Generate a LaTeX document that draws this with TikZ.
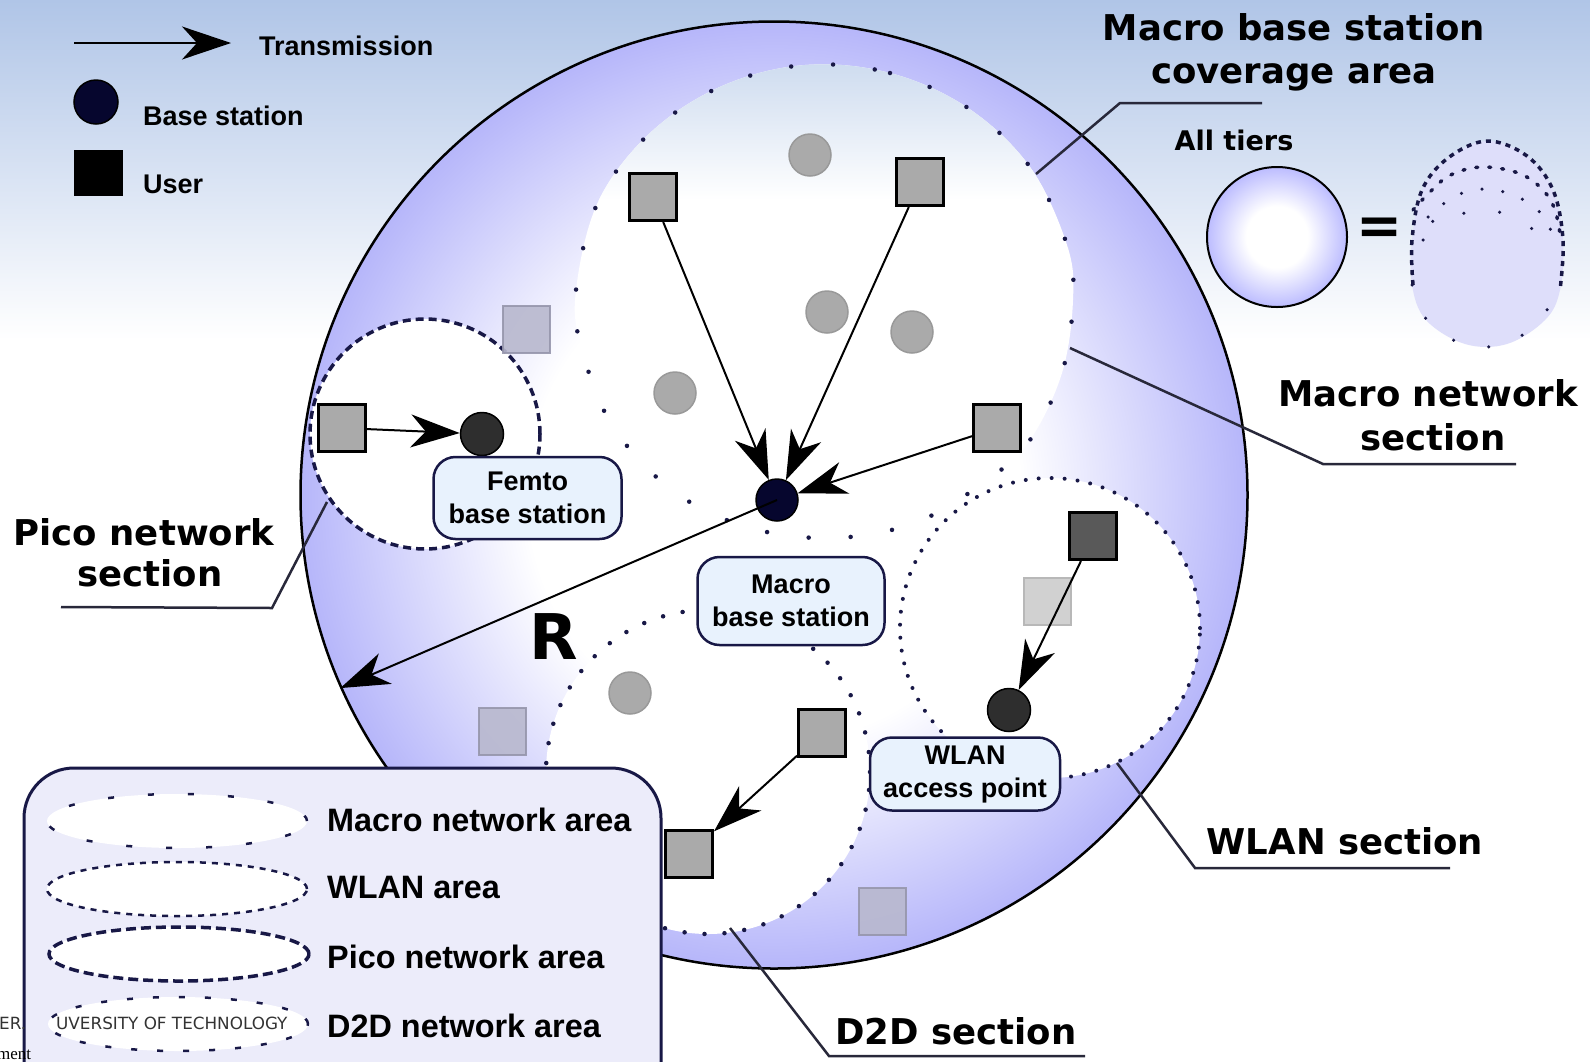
\documentclass[tikz,border=0pt]{standalone}
\usepackage{fontspec}
\setmainfont{DejaVu Sans}
\newfontfamily\legfont{Liberation Sans}
\newfontfamily\serffont{Liberation Serif}
\usetikzlibrary{arrows.meta,shapes.geometric}

\definecolor{sky}{RGB}{176,197,231}
\definecolor{rim}{RGB}{182,182,250}
\definecolor{rimlight}{RGB}{188,188,255}
\definecolor{navy}{RGB}{24,24,70}
\definecolor{bsnavy}{RGB}{6,6,46}
\definecolor{lblfill}{RGB}{232,242,253}
\definecolor{legfill}{RGB}{236,236,250}
\definecolor{usergray}{RGB}{170,170,170}
\definecolor{ghost}{RGB}{184,184,206}
\definecolor{ghostline}{RGB}{150,150,172}
\definecolor{tierfill}{RGB}{222,222,250}
\definecolor{leadgray}{RGB}{40,40,58}
\definecolor{macrotint}{RGB}{205,219,239}

\pgfdeclareradialshading{coverage}{\pgfpoint{0bp}{0bp}}{color(0bp)=(white); color(13bp)=(white); color(25bp)=(rim); color(50bp)=(rim)}
\pgfdeclareradialshading{tiershade}{\pgfpoint{0bp}{0bp}}{color(0bp)=(white); color(11bp)=(white); color(25bp)=(rimlight); color(50bp)=(rimlight)}

% outline of the macro network area
\def\macroarea{plot[smooth cycle, tension=0.6] coordinates {(805,65) (890,73) (968,108) (1030,167) (1067,245) (1073,300) (1062,373) (1030,440) (990,478) (917,522) (833,538) (747,527) (672,490) (612,425) (581,346) (576,290) (598,202) (650,133) (722,86)}}

\begin{document}
\begin{tikzpicture}[x=1pt,y=-1pt,
  tx/.style={line width=2pt, draw=black, -{Stealth[length=49pt,width=33pt,inset=15pt]}},
  usr/.style={rectangle, minimum size=47pt, inner sep=0pt, fill=usergray, draw=black, line width=3pt},
  ghostusr/.style={rectangle, minimum size=47pt, inner sep=0pt, fill=ghost, draw=ghostline, line width=2pt, opacity=0.9},
  bs/.style={circle, minimum size=42pt, inner sep=0pt, fill=bsnavy, draw=black, line width=1.5pt},
  femto/.style={circle, minimum size=43pt, inner sep=0pt, fill=black!82, draw=black, line width=1.5pt},
  idle/.style={circle, minimum size=42pt, inner sep=0pt, fill=usergray, draw=black!40, line width=1.5pt},
  macrodots/.style={draw=navy, line width=4.5pt, line cap=round, dash pattern=on 0pt off 42pt},
  wlandots/.style={draw=navy, line width=4pt, line cap=round, dash pattern=on 0pt off 13pt},
  picodash/.style={draw=navy, line width=3.5pt, dash pattern=on 8pt off 5pt},
  dtddots/.style={draw=navy, line width=4.5pt, line cap=round, dash pattern=on 0pt off 20pt},
  lbl/.style={rectangle, rounded corners=22pt, fill=lblfill, draw=navy, line width=2.5pt, align=center, inner sep=0pt, font=\legfont\bfseries\fontsize{27}{33}\selectfont},
  sect/.style={anchor=base, inner sep=0pt, font=\bfseries\fontsize{35.5}{40}\selectfont},
  key/.style={anchor=base west, inner sep=0pt, font=\legfont\bfseries\fontsize{27}{30}\selectfont},
  area/.style={anchor=base west, inner sep=0pt, font=\legfont\bfseries\fontsize{32.4}{36}\selectfont},
  leader/.style={draw=leadgray, line width=2.5pt},
  legell/.style={ellipse, minimum width=260pt, minimum height=54pt, inner sep=0pt, fill=white},
  keymacro/.style={draw=navy, line width=2.5pt, dash pattern=on 6pt off 34pt},
  keywlan/.style={draw=navy, line width=2.5pt, dash pattern=on 6pt off 6pt},
  keypico/.style={draw=navy, line width=3.5pt, dash pattern=on 10pt off 5pt},
  keydtd/.style={draw=navy, line width=2.5pt, dash pattern=on 6pt off 20pt},
  tierdense/.style={draw=navy, line width=3.5pt, dash pattern=on 5pt off 5pt},
  tiermid/.style={draw=navy, line width=3.5pt, line cap=round, dash pattern=on 2pt off 11pt},
  tiersparse/.style={draw=navy, line width=3.5pt, line cap=round, dash pattern=on 0pt off 21pt},
  tierwide/.style={draw=navy, line width=3.5pt, line cap=round, dash pattern=on 0pt off 36pt},
]
\useasboundingbox (0,0) rectangle (1590,1061);
\clip (0,0) rectangle (1590,1061);

% background
\fill[white] (0,0) rectangle (1590,1061);
\shade[top color=sky, bottom color=white] (0,0) rectangle (1590,340);

% macro base station coverage
\node[circle, minimum size=947pt, inner sep=0pt, draw=black, line width=2.5pt, shading=coverage] (cov) at (774,495) {};

% macro network area
\fill[white] \macroarea;
\begin{scope}
  \clip \macroarea;
  \shade[top color=macrotint, bottom color=white] (560,60) rectangle (1090,200);
\end{scope}
\path[macrodots] \macroarea;

% pico, WLAN and D2D areas
\node[circle, minimum size=230pt, inner sep=0pt, fill=white, picodash] (pico) at (425,434) {};
\node[circle, minimum size=300pt, inner sep=0pt, fill=white, wlandots] (wlan) at (1050,628) {};
\node[circle, minimum size=324pt, inner sep=0pt, fill=white, dtddots] (dtd) at (708,772) {};

% leader lines of the section labels
\coordinate (cvA) at (1036,174); \coordinate (cvB) at (1120,103); \coordinate (cvC) at (1262,103);
\draw[leader] (cvA) -- (cvB) -- (cvC);
\coordinate (mnA) at (1070,348); \coordinate (mnB) at (1323,464); \coordinate (mnC) at (1516,464);
\draw[leader] (mnA) -- (mnB) -- (mnC);
\coordinate (pcA) at (327,502); \coordinate (pcB) at (272,608); \coordinate (pcC) at (61,607);
\draw[leader] (pcA) -- (pcB) -- (pcC);
\coordinate (wlA) at (1117,763); \coordinate (wlB) at (1195,868); \coordinate (wlC) at (1450,868);
\draw[leader] (wlA) -- (wlB) -- (wlC);
\coordinate (ddA) at (730,928); \coordinate (ddB) at (829,1056); \coordinate (ddC) at (1085,1056);
\draw[leader] (ddA) -- (ddB) -- (ddC);

% inactive users and base stations
\node[ghostusr] (g1) at (526,329) {};
\node[ghostusr] (g2) at (502,731) {};
\node[ghostusr] (g3) at (882,911) {};
\node[idle] (i1) at (810,155) {};
\node[idle] (i2) at (827,312) {};
\node[idle] (i3) at (912,332) {};
\node[idle] (i4) at (675,393) {};
\node[idle] (i5) at (630,693) {};

% active users
\node[usr] (u1) at (653,197) {};
\node[usr] (u2) at (920,182) {};
\node[usr] (u3) at (997,428) {};
\node[usr] (pu) at (342,428) {};
\node[usr, fill=black!65] (wu) at (1093,536) {};
\node[usr, fill=black!18, draw=black!28, line width=2pt] (wg) at (1047,601) {};
\node[usr] (dA) at (822,733) {};
\node[usr] (dB) at (689,854) {};

% base stations
\node[bs] (mbs) at (777,500) {};
\node[femto] (fbs) at (482,434) {};
\node[femto] (ap) at (1009,710) {};

% transmissions
\draw[tx] (u1) -- (mbs);
\draw[tx] (u2) -- (mbs);
\draw[tx] (u3) -- (mbs);
\draw[tx] (pu) -- (fbs);
\draw[tx] (wu) -- (ap);
\draw[tx] (dA) -- (dB);
\draw[tx] (mbs.center) -- (cov.204.8);
\node[font=\bfseries\fontsize{63}{63}\selectfont, anchor=base, inner sep=0pt] (rlab) at (554,659) {R};

% station labels
\node[lbl, minimum width=188pt, minimum height=82pt] (femtoLbl) at (527.5,498) {Femto\\base station};
\node[lbl, minimum width=187pt, minimum height=88pt] (macroLbl) at (791,601) {Macro\\base station};
\node[lbl, minimum width=190pt, minimum height=73pt] (wlanLbl) at (965,774) {WLAN\\access point};

% section names
\node[sect] (covT1) at (1294,40) {Macro base station};
\node[sect] (covT2) at (1294,83) {coverage area};
\node[sect] (mnT1) at (1428,406) {Macro network};
\node[sect] (mnT2) at (1433,450) {section};
\node[sect] (pcT1) at (144,545) {Pico network};
\node[sect] (pcT2) at (150,586) {section};
\node[sect] (wlT) at (1345,854) {WLAN section};
\node[sect] (ddT) at (956,1044) {D2D section};

% all tiers
\node[anchor=base, inner sep=0pt, font=\bfseries\fontsize{27}{30}\selectfont] (allT) at (1234,150) {All tiers};
\node[circle, minimum size=140pt, inner sep=0pt, draw=black, line width=2pt, shading=tiershade] (tierc) at (1277,237) {};
\node[inner sep=0pt, font=\bfseries\fontsize{55}{55}\selectfont] (eqs) at (1380,231) {=};
\fill[tierfill] plot[smooth cycle, tension=0.6] coordinates {(1412,240) (1422,190) (1448,158) (1487,141) (1527,156) (1553,190) (1563,240) (1560,290) (1545,320) (1507,344) (1465,344) (1426,320) (1412,285)};
\draw[tierdense] plot[smooth, tension=0.6] coordinates {(1413,285) (1412,240) (1422,190) (1448,158) (1487,141) (1527,156) (1553,190) (1563,240) (1560,290)};
\draw[tiermid] plot[smooth, tension=0.6] coordinates {(1413,210) (1427,195) (1447,177) (1472,168) (1497,168) (1523,175) (1543,190) (1555,210) (1561,240)};
\draw[tiersparse] plot[smooth, tension=0.6] coordinates {(1423,240) (1445,202) (1467,192) (1488,189) (1510,194) (1532,205) (1547,222) (1555,243)};
\draw[tierwide] plot[smooth, tension=0.6] coordinates {(1428,217) (1457,214) (1499,212) (1537,232)};
\draw[tierwide] plot[smooth, tension=0.6] coordinates {(1412,285) (1427,320) (1463,344) (1505,344) (1540,320) (1556,290)};

% symbol key
\coordinate (kA) at (74,43); \coordinate (kB) at (231,43);
\draw[tx] (kA) -- (kB);
\node[key] (kTx) at (259,55) {Transmission};
\node[bs, minimum size=44pt] (kBS) at (96,102) {};
\node[key] (kBStxt) at (143,125) {Base station};
\node[rectangle, minimum width=49pt, minimum height=46pt, fill=black, inner sep=0pt] (kU) at (98.5,173) {};
\node[key] (kUtxt) at (143,193) {User};

% area key
\node[rectangle, rounded corners=50pt, minimum width=637pt, minimum height=360pt, fill=legfill, draw=navy, line width=3pt, inner sep=0pt] (legbox) at (342.5,948) {};
\node[legell, keymacro] (eMacro) at (177,821) {};
\node[legell, keywlan] (eWlan) at (177,889) {};
\node[legell, keypico] (ePico) at (179,954) {};
\node[legell, keydtd] (eDtd) at (178,1024) {};
\node[area] (aMacro) at (327,831) {Macro network area};
\node[area] (aWlan) at (327,898) {WLAN area};
\node[area] (aPico) at (327,968) {Pico network area};
\node[area] (aDtd) at (327,1037) {D2D network area};

% text fragments at the lower left edge
\node[anchor=base west, inner sep=0pt, font=\fontsize{16.8}{17}\selectfont, text=black!80] (rem1) at (-1,1029) {ER.};
\node[anchor=base west, inner sep=0pt, font=\fontsize{16.8}{17}\selectfont, text=black!80] (rem2) at (56,1029) {UVERSITY OF TECHNOLOGY};
\node[anchor=base west, inner sep=0pt, font=\serffont\fontsize{17}{17}\selectfont] (rem3) at (-3,1059) {ment};
\end{tikzpicture}
\end{document}
